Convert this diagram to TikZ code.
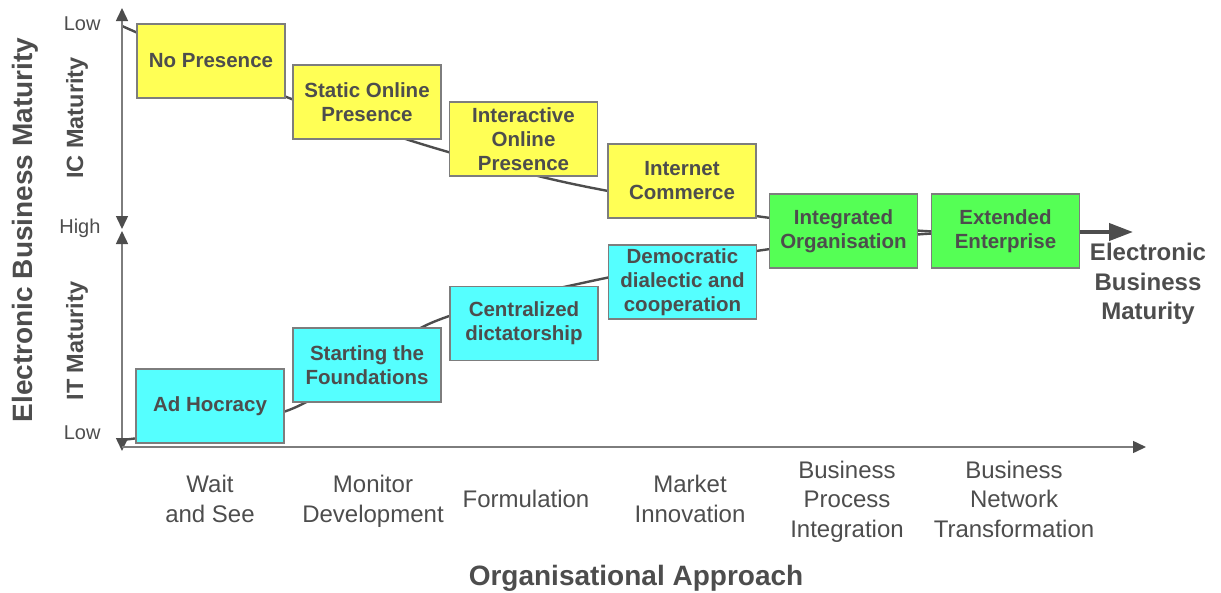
\documentclass[tikz,border=0pt]{standalone}
\usepackage{fontspec}
\setmainfont{Liberation Sans}
\usetikzlibrary{arrows.meta}
\definecolor{ink}{RGB}{77,77,77}
\definecolor{rim}{RGB}{125,125,125}
\definecolor{yel}{RGB}{255,255,85}
\definecolor{cya}{RGB}{85,255,255}
\definecolor{gre}{RGB}{85,255,85}
\tikzset{
	stage/.style={draw=rim,line width=1.4pt,minimum width=148pt,minimum height=74pt,inner sep=0pt,align=center,text=ink,font=\fontsize{20.5}{24}\selectfont\bfseries},
	phase/.style={text=ink,align=center,text depth=0pt,font=\fontsize{24}{29.5}\selectfont},
	lvl/.style={text=ink,anchor=east,font=\fontsize{20}{24}\selectfont},
	axtip/.tip={Triangle[length=13pt,width=12pt,color=ink]}
}
\begin{document}
\begin{tikzpicture}[x=1pt,y=-1pt]
	\useasboundingbox (0,0) rectangle (1221,592);
	% the two paths, drawn first so that the boxes cover them
	\foreach \n/\p in {u0/{122,26},u1/{289,98},u2/{428,146},u3/{573,184},u4/{763,217},u5/{924,231},u6/{1000,232},
		l0/{122,440},l1/{289,410},l2/{431,323},l3/{587,282},l4/{763,250},l5/{924,234},l6/{1000,233}}
		{\coordinate (\n) at (\p);}
	\draw[ink,line width=2.4pt] plot[smooth,tension=0.5] coordinates {(u0)(u1)(u2)(u3)(u4)(u5)(u6)};
	\draw[ink,line width=2.4pt] plot[smooth,tension=0.5] coordinates {(l0)(l1)(l2)(l3)(l4)(l5)(l6)};
	% axes
	\draw[rim,line width=1.5pt,axtip-axtip](122,8)--(122,229);
	\draw[rim,line width=1.5pt,axtip-axtip](122,231)--(122,451);
	\draw[rim,line width=1.5pt,-axtip](122,447)--(1146,447);
	\node[lvl] (lowic) at (104,24) {Low};
	\node[lvl] (high) at (104,228) {High};
	\node[lvl] (lowit) at (104,433) {Low};
	\node[text=ink,rotate=90,font=\fontsize{28}{32}\selectfont\bfseries] (ebm) at (25,230) {Electronic Business Maturity};
	\node[text=ink,rotate=90,font=\fontsize{23.5}{28}\selectfont\bfseries] (icm) at (77,118) {IC Maturity};
	\node[text=ink,rotate=90,font=\fontsize{23.5}{28}\selectfont\bfseries] (itm) at (77,341) {IT Maturity};
	% boxes
	\node[stage,fill=yel] (nop) at (211,61) {No Presence};
	\node[stage,fill=yel] (sop) at (367,102) {Static Online\\Presence};
	\node[stage,fill=yel] (iop) at (523.5,139) {Interactive\\Online\\Presence};
	\node[stage,fill=yel] (ic) at (682,181) {Internet\\Commerce};
	\node[stage,fill=cya] (ah) at (210,406) {Ad Hocracy};
	\node[stage,fill=cya] (sf) at (367,365) {Starting the\\Foundations};
	\node[stage,fill=cya] (cd) at (524,323.5) {Centralized\\dictatorship};
	\node[stage,fill=cya] (dd) at (682.5,282) {Democratic\\dialectic and\\cooperation};
	\node[stage,fill=gre] (io) at (843.5,231) {Integrated\\Organisation};
	\node[stage,fill=gre] (ee) at (1005.5,231) {Extended\\Enterprise};
	\coordinate (end) at (1133,232);
	\draw[ink,line width=4pt,-{Triangle[length=24pt,width=17pt]}](ee.east|-end)--(end);
	\node[text=ink,align=center,font=\fontsize{24}{29.5}\selectfont\bfseries] (ebmr) at (1148,284) {Electronic\\Business\\Maturity};
	% stages of the organisation
	\foreach \x/\t [count=\i] in {210/Wait\\and See,373/Monitor\\Development,526/Formulation,690/Market\\Innovation,
		847/Business\\Process\\Integration,1014/Business\\Network\\Transformation}
		{\node[phase] (ph\i) at (\x,499) {\t};}
	\node[text=ink,font=\fontsize{28}{32}\selectfont\bfseries] (oa) at (636,578) {Organisational Approach};
\end{tikzpicture}
\end{document}
